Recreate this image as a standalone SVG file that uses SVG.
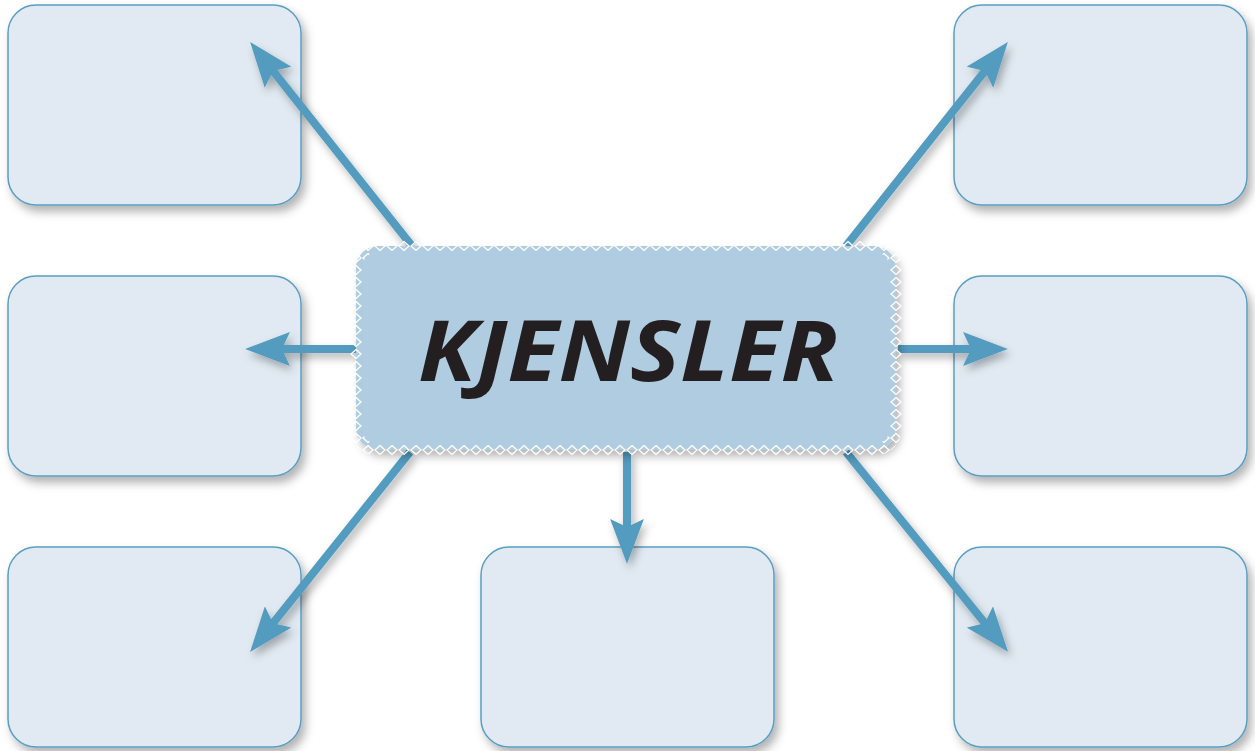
<svg xmlns="http://www.w3.org/2000/svg" width="1255" height="751" viewBox="0 0 1255 751">
<style>
.box{fill:#e1eaf2;stroke:#5a9ec2;stroke-width:1.5;filter:url(#sh)}
.arr{stroke:#529bbf;stroke-width:8;fill:none;marker-end:url(#ah)}
.title{font-family:"Open Sans","Liberation Sans",sans-serif;font-weight:bold;font-style:italic;font-size:84px;fill:#231f20}
</style>
<defs>
<filter id="sh" x="-20%" y="-20%" width="140%" height="140%">
<feDropShadow dx="4" dy="6" stdDeviation="5" flood-color="#000" flood-opacity="0.3"/>
</filter>
<filter id="ash" x="-20%" y="-20%" width="140%" height="140%">
<feDropShadow dx="3" dy="5" stdDeviation="4" flood-color="#000" flood-opacity="0.3"/>
</filter>
<marker id="ah" viewBox="0 0 45 34" refX="15" refY="17" markerWidth="5.6" markerHeight="4.25" orient="auto" markerUnits="strokeWidth">
<path d="M0 0 L45 17 L0 34 L8 17 Z" fill="#529bbf"/>
</marker>
<pattern id="dia" x="350" y="240" width="12" height="12" patternUnits="userSpaceOnUse">
<path d="M6 1.5 L11 6 L6 10.5 L1 6 Z" fill="none" stroke="#fff" stroke-width="1.3"/>
</pattern>
</defs>
<g id="box-top-left"><rect class="box" x="8" y="5" width="293" height="200" rx="28"/></g>
<g id="box-mid-left"><rect class="box" x="8" y="276" width="293" height="200" rx="28"/></g>
<g id="box-bottom-left"><rect class="box" x="8" y="547" width="293" height="200" rx="28"/></g>
<g id="box-bottom-center"><rect class="box" x="481" y="547" width="293" height="200" rx="28"/></g>
<g id="box-top-right"><rect class="box" x="954" y="5" width="293" height="200" rx="28"/></g>
<g id="box-mid-right"><rect class="box" x="954" y="276" width="293" height="200" rx="28"/></g>
<g id="box-bottom-right"><rect class="box" x="954" y="547" width="293" height="200" rx="28"/></g>
<g id="connectors" filter="url(#ash)">
<line class="arr" x1="412" y1="246" x2="268.7" y2="65.5"/>
<line class="arr" x1="846" y1="246" x2="989.3" y2="65.5"/>
<line class="arr" x1="356" y1="349" x2="275" y2="349"/>
<line class="arr" x1="898" y1="349" x2="978" y2="349"/>
<line class="arr" x1="410" y1="452" x2="268.75" y2="628.6"/>
<line class="arr" x1="627" y1="452" x2="627" y2="534"/>
<line class="arr" x1="846" y1="452" x2="989.25" y2="628.6"/>
</g>
<g id="center">
<rect x="356" y="246" width="540" height="204" rx="22" fill="#b0cce0" filter="url(#sh)"/>
<path fill-rule="evenodd" fill="url(#dia)" d="M378 240 H874 A28 28 0 0 1 902 268 V428 A28 28 0 0 1 874 456 H378 A28 28 0 0 1 350 428 V268 A28 28 0 0 1 378 240 Z M378 252 A16 16 0 0 0 362 268 V428 A16 16 0 0 0 378 444 H874 A16 16 0 0 0 890 428 V268 A16 16 0 0 0 874 252 Z"/>
<text class="title" x="628" y="381" text-anchor="middle" textLength="420" lengthAdjust="spacingAndGlyphs">KJENSLER</text>
</g>
</svg>
